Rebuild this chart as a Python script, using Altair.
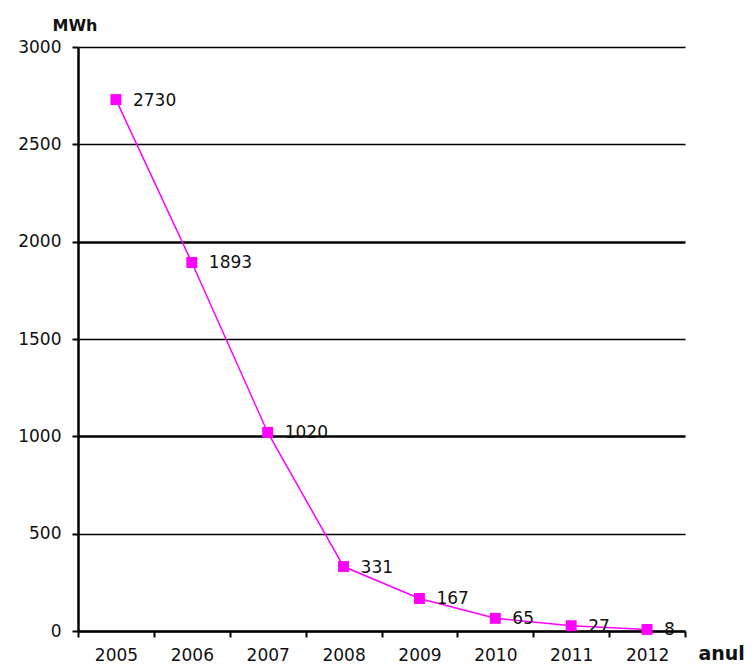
import altair as alt
import pandas as pd

years = [2005, 2006, 2007, 2008, 2009, 2010, 2011, 2012]
values = [2730, 1893, 1020, 331, 167, 65, 27, 8]
y_ticks = [0, 500, 1000, 1500, 2000, 2500, 3000]
band_edges = [2004.5 + i for i in range(9)]

df = pd.DataFrame({"year": years, "value": values})

FONT = "DejaVu Sans"
MAG = "#FF00FF"

yenc = alt.Y(
    "value:Q",
    scale=alt.Scale(domain=[0, 3000], nice=False, zero=True),
    axis=alt.Axis(
        values=y_ticks,
        format="d",
        title="MWh",
        titleAngle=0,
        titleAlign="left",
        titleBaseline="alphabetic",
        titleX=-26,
        titleY=-17,
        titleFont=FONT,
        titleFontSize=16,
        titleFontWeight="bold",
        titleColor="#111",
        labelFont=FONT,
        labelFontSize=17,
        labelColor="#111",
        labelPadding=11,
        tickSize=6,
        tickWidth=2,
        tickColor="black",
        domainColor="black",
        domainWidth=2.5,
        grid=True,
        gridColor="black",
        gridOpacity=1,
        gridWidth={"condition": {"test": "datum.value == 1000 || datum.value == 2000", "value": 2.6}, "value": 1.3},
    ),
)

xscale = alt.Scale(domain=[2004.5, 2012.5], nice=False, zero=False)

line = alt.Chart(df).mark_line(color=MAG, strokeWidth=1.5).encode(
    x=alt.X(
        "year:Q",
        scale=xscale,
        axis=alt.Axis(
            values=band_edges,
            labels=False,
            title=None,
            grid=False,
            orient="bottom",
            tickSize=6,
            tickWidth=2,
            tickColor="black",
            domainColor="black",
            domainWidth=2.5,
        ),
    ),
    y=yenc,
)

points = alt.Chart(df).mark_square(color=MAG, size=120, opacity=1).encode(
    x=alt.X(
        "year:Q",
        scale=xscale,
        axis=alt.Axis(
            values=years,
            format="d",
            orient="bottom",
            domain=False,
            ticks=False,
            grid=False,
            labelFont=FONT,
            labelFontSize=17,
            labelColor="#111",
            labelPadding=16,
            title="anul",
            titleFont=FONT,
            titleFontSize=19,
            titleFontWeight="bold",
            titleColor="#111",
            titleAnchor="start",
            titleAlign="left",
            titleBaseline="alphabetic",
            titleX=620,
            titleY=28,
        ),
    ),
    y=alt.Y("value:Q"),
)

labels = alt.Chart(df).mark_text(
    align="left", baseline="middle", dx=17, dy=1, font=FONT, fontSize=17, color="#111"
).encode(
    x=alt.X("year:Q", scale=xscale, axis=None),
    y=alt.Y("value:Q"),
    text=alt.Text("value:Q", format="d"),
)

chart = (
    alt.layer(line, points, labels)
    .resolve_axis(x="independent")
    .properties(
        width=607,
        height=584,
        autosize=alt.AutoSizeParams(type="none"),
        padding={"left": 70, "top": 39, "right": 63, "bottom": 33},
        background="white",
    )
    .configure_view(stroke=None)
)

chart.save("out.html", embed_options={"renderer": "svg", "actions": False})
